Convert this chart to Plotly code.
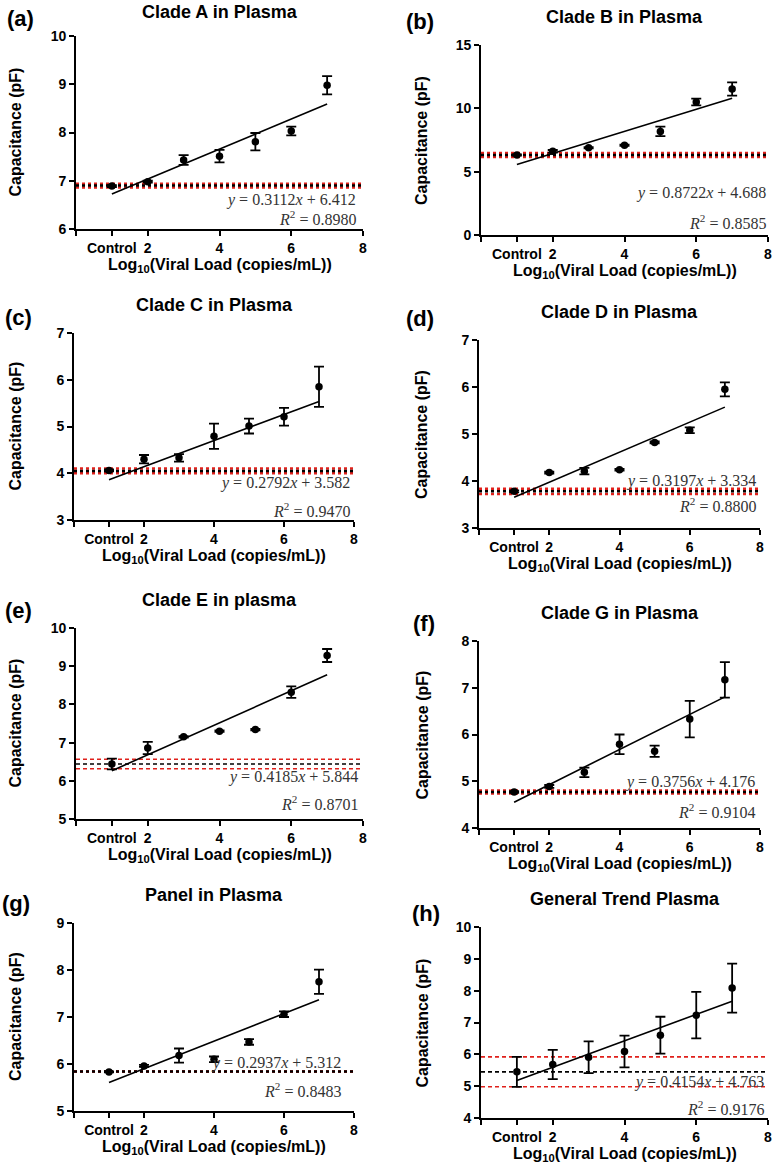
import plotly.graph_objects as go

# ---------------- data ----------------
x_levels = [1, 2, 3, 4, 5, 6, 7]
x_tickvals = [0, 1, 2, 4, 6, 8]
x_ticktext = ["", "Control", "2", "4", "6", "8"]

panel_letters = ["(a)", "(b)", "(c)", "(d)", "(e)", "(f)", "(g)", "(h)"]
panel_titles = ["Clade A in Plasma", "Clade B in Plasma", "Clade C in Plasma",
                "Clade D in Plasma", "Clade E in plasma", "Clade G in Plasma",
                "Panel in Plasma", "General Trend Plasma"]

A_mean = [6.89, 6.98, 7.43, 7.51, 7.81, 8.03, 8.98]
A_err = [0.02, 0.02, 0.10, 0.13, 0.18, 0.09, 0.19]
B_mean = [6.32, 6.61, 6.89, 7.08, 8.18, 10.50, 11.53]
B_err = [0.05, 0.10, 0.05, 0.05, 0.37, 0.26, 0.52]
C_mean = [4.06, 4.30, 4.33, 4.79, 5.01, 5.21, 5.85]
C_err = [0.02, 0.09, 0.08, 0.27, 0.16, 0.19, 0.43]
D_mean = [3.78, 4.18, 4.21, 4.24, 4.82, 5.08, 5.95]
D_err = [0.02, 0.02, 0.07, 0.02, 0.02, 0.06, 0.15]
E_mean = [6.44, 6.86, 7.15, 7.30, 7.34, 8.32, 9.28]
E_err = [0.14, 0.16, 0.02, 0.02, 0.02, 0.15, 0.17]
G_mean = [4.77, 4.89, 5.19, 5.79, 5.64, 6.33, 7.17]
G_err = [0.02, 0.03, 0.10, 0.21, 0.12, 0.39, 0.38]
P_mean = [5.83, 5.96, 6.18, 6.10, 6.47, 7.06, 7.75]
P_err = [0.01, 0.02, 0.15, 0.06, 0.06, 0.06, 0.26]
T_mean = [5.45, 5.68, 5.91, 6.09, 6.60, 7.23, 8.08]
T_err = [0.47, 0.46, 0.50, 0.50, 0.58, 0.73, 0.77]

series_means = [A_mean, B_mean, C_mean, D_mean, E_mean, G_mean, P_mean, T_mean]
series_errs = [A_err, B_err, C_err, D_err, E_err, G_err, P_err, T_err]

fit_slope = [0.3112, 0.8722, 0.2792, 0.3197, 0.4185, 0.3756, 0.2937, 0.4154]
fit_intercept = [6.412, 4.688, 3.582, 3.334, 5.844, 4.176, 5.312, 4.763]
fit_slope_txt = ["0.3112", "0.8722", "0.2792", "0.3197", "0.4185", "0.3756", "0.2937", "0.4154"]
fit_intercept_txt = ["6.412", "4.688", "3.582", "3.334", "5.844", "4.176", "5.312", "4.763"]
r2_txt = ["0.8980", "0.8585", "0.9470", "0.8800", "0.8701", "0.9104", "0.8483", "0.9176"]

ctrl_mean = [6.90, 6.32, 4.05, 3.78, 6.44, 4.77, 5.84, 5.45]
ctrl_sd = [0.04, 0.16, 0.05, 0.055, 0.125, 0.03, 0.0, 0.47]

y_ranges = [[6, 10], [0, 15], [3, 7], [3, 7], [5, 10], [4, 8], [5, 9], [4, 10]]
y_dticks = [1, 5, 1, 1, 1, 1, 1, 1]

# ---------------- layout (pixels) ----------------
W, H = 773, 1166
# plot area boxes: left, right, top, bottom
boxes = [(76, 363, 36, 229), (481, 768, 45, 235),
         (74, 354, 333, 520), (479, 760, 340, 528),
         (76, 363, 628, 819), (479, 760, 641, 828),
         (74, 354, 923, 1111), (481, 768, 927, 1118)]
letter_pos = [(20, 18), (420, 22), (18, 317), (420, 318),
              (18, 610), (424, 623), (16, 903), (426, 913)]
ytitle_x = [15, 422, 15, 422, 15, 422, 15, 422]
eq_pos = [(358, 200, 218), (768, 193, 222), (352, 483, 510), (758, 481, 505),
          (360, 777, 803), (757, 782, 811), (343, 1063, 1090), (766, 1082, 1108)]
ctrl_dash = ["dot", "dot", "dot", "dot", "4px,3px", "dot", "dot", "4px,3px"]
ctrl_width = [2.5, 2.5, 2.5, 2.5, 1.6, 2.5, 2.5, 1.6]

RED = "#e0201b"
FONT = "Arial, Liberation Sans, sans-serif"
SERIF = "Times New Roman, Liberation Serif, serif"


def px(x):
    return x / W


def py(y):
    return 1 - y / H


fig = go.Figure()
annotations = []
layout_axes = {}

for i in range(8):
    xa = "x" if i == 0 else f"x{i + 1}"
    ya = "y" if i == 0 else f"y{i + 1}"
    l, r, t, b = boxes[i]
    m = ctrl_mean[i]
    sd = ctrl_sd[i]
    # control mean +/- SD lines
    for val, col in [(m + sd, RED), (m - sd, RED), (m, "black")]:
        fig.add_trace(go.Scatter(x=[0, 8], y=[val, val], mode="lines",
                                 line=dict(color=col, width=ctrl_width[i], dash=ctrl_dash[i]),
                                 xaxis=xa, yaxis=ya, showlegend=False, hoverinfo="skip"))
    # linear fit
    fx = [x_levels[0], x_levels[-1]]
    fy = [fit_slope[i] * v + fit_intercept[i] for v in fx]
    fig.add_trace(go.Scatter(x=fx, y=fy, mode="lines", line=dict(color="black", width=1.6),
                             xaxis=xa, yaxis=ya, showlegend=False))
    # data points
    fig.add_trace(go.Scatter(x=x_levels, y=series_means[i], mode="markers",
                             marker=dict(color="black", size=7.5),
                             error_y=dict(type="data", array=series_errs[i], color="black",
                                          thickness=1.8, width=5),
                             xaxis=xa, yaxis=ya, showlegend=False))

    axis_common = dict(showline=True, linecolor="black", linewidth=1.8, ticks="outside",
                       ticklen=5, tickwidth=1.8, tickcolor="black", showgrid=False,
                       zeroline=False, automargin=False,
                       tickfont=dict(family=FONT, size=14, color="black", weight="bold"))
    layout_axes["xaxis" if i == 0 else f"xaxis{i + 1}"] = dict(
        domain=[px(l), px(r)], range=[0, 8], anchor=ya, tickvals=x_tickvals,
        ticktext=x_ticktext, **axis_common)
    layout_axes["yaxis" if i == 0 else f"yaxis{i + 1}"] = dict(
        domain=[py(b), py(t)], range=y_ranges[i], anchor=xa, dtick=y_dticks[i],
        tick0=0, **axis_common)

    cx = (l + r) / 2
    cy = (t + b) / 2
    annotations.append(dict(text=f"<b>{panel_titles[i]}</b>", x=px(cx),
                            y=py(max(t - 28, 12)),
                            xref="paper", yref="paper", showarrow=False,
                            font=dict(family=FONT, size=18, color="black"),
                            xanchor="center", yanchor="middle"))
    lx, ly = letter_pos[i]
    annotations.append(dict(text=f"<b>{panel_letters[i]}</b>", x=px(lx), y=py(ly),
                            xref="paper", yref="paper", showarrow=False,
                            font=dict(family=FONT, size=22, color="black"),
                            xanchor="center", yanchor="middle"))
    annotations.append(dict(text="<b>Log<sub>10</sub>(Viral Load (copies/mL))</b>",
                            x=px(cx), y=py(b + 36), xref="paper", yref="paper",
                            showarrow=False, font=dict(family=FONT, size=16, color="black"),
                            xanchor="center", yanchor="middle"))
    annotations.append(dict(text="<b>Capacitance (pF)</b>", x=px(ytitle_x[i]), y=py(cy),
                            xref="paper", yref="paper", showarrow=False, textangle=-90,
                            font=dict(family=FONT, size=16, color="black"),
                            xanchor="center", yanchor="middle"))
    ex, ey1, ey2 = eq_pos[i]
    annotations.append(dict(text=f"<i>y</i> = {fit_slope_txt[i]}<i>x</i> + {fit_intercept_txt[i]}",
                            x=px(ex), y=py(ey1), xref="paper", yref="paper", showarrow=False,
                            font=dict(family=SERIF, size=16, color="#333333"),
                            xanchor="right", yanchor="middle"))
    annotations.append(dict(text=f"<i>R</i><sup>2</sup> = {r2_txt[i]}",
                            x=px(ex), y=py(ey2), xref="paper", yref="paper", showarrow=False,
                            font=dict(family=SERIF, size=16, color="#333333"),
                            xanchor="right", yanchor="middle"))

fig.update_layout(width=W, height=H, margin=dict(l=0, r=0, t=0, b=0, autoexpand=False),
                  paper_bgcolor="white", plot_bgcolor="white",
                  annotations=annotations, showlegend=False, **layout_axes)

fig.write_html("out.html", config={"displayModeBar": False},
               post_script="document.body.style.margin='0';document.body.style.padding='0';")
